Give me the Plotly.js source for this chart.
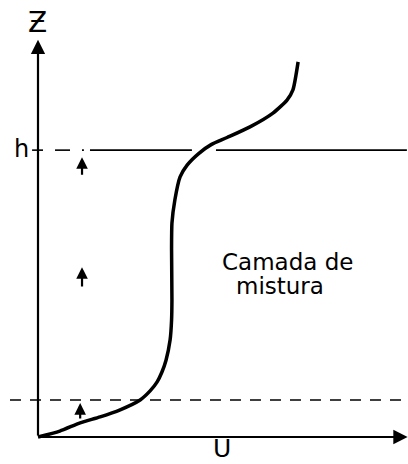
<!DOCTYPE html>
<html>
<head>
<meta charset="utf-8">
<script src="https://cdn.plot.ly/plotly-3.0.1.min.js"></script>
<style>html,body{margin:0;padding:0;background:#fff;}#chart{width:408px;height:464px;}</style>
</head>
<body>
<div id="chart"></div>
<script>
// Wind profile U(z) in arbitrary units
const profileU = [0, 0.59, 1.14, 1.68, 2.22, 2.76, 3.03, 3.22, 3.35, 3.46, 3.57, 3.61, 3.62, 3.61, 3.62, 3.70, 3.84, 4.03, 4.35, 4.68, 5.11, 5.73, 6.35, 6.73, 6.89, 7.03];
const profileZ = [0, 0.15, 0.36, 0.51, 0.69, 0.94, 1.17, 1.40, 1.65, 1.95, 2.46, 2.97, 3.48, 4.75, 5.43, 6.02, 6.60, 6.90, 7.20, 7.42, 7.60, 7.87, 8.22, 8.55, 8.81, 9.52];
const hLevel = 7.28;        // top of mixed layer
const surfaceLevel = 0.94;  // top of surface layer
const fluxArrowU = [1.19, 1.19, 1.14];
const fluxArrowBottom = [6.62, 3.78, 0.43];
const fluxArrowTop = [7.10, 4.31, 0.86];
const labels = {z: "Ƶ", u: "U", h: "h", layer1: "Camada de", layer2: "mistura"};

const traces = [{
  x: profileU, y: profileZ, type: 'scatter', mode: 'lines',
  line: {color: '#000', width: 3.5, shape: 'spline', smoothing: 0.6},
  hoverinfo: 'skip', showlegend: false
}];

const blk = '#000';
const shapes = [
  // h level segments (gap around the profile)
  {type: 'line', xref: 'x', yref: 'y', x0: -0.16, x1: 0.135, y0: hLevel, y1: hLevel, line: {color: blk, width: 1.6}},
  {type: 'line', xref: 'x', yref: 'y', x0: 0.46, x1: 0.865, y0: hLevel, y1: hLevel, line: {color: blk, width: 1.6}},
  {type: 'line', xref: 'x', yref: 'y', x0: 1.19, x1: 1.24, y0: hLevel, y1: hLevel, line: {color: blk, width: 1.6}},
  {type: 'line', xref: 'x', yref: 'y', x0: 1.405, x1: 4.16, y0: hLevel, y1: hLevel, line: {color: blk, width: 1.6}},
  {type: 'line', xref: 'x', yref: 'y', x0: 4.81, x1: 9.97, y0: hLevel, y1: hLevel, line: {color: blk, width: 1.6}},
  // surface layer dashed line
  {type: 'line', xref: 'x', yref: 'y', x0: -0.757, x1: 10.0, y0: surfaceLevel, y1: surfaceLevel, line: {color: blk, width: 1.6, dash: '11px,9px'}}
];

const annotations = [
  // axes with arrows
  {x: 0, y: 10.08, ax: 0, ay: 0, xref: 'x', yref: 'y', axref: 'x', ayref: 'y', text: '', showarrow: true, arrowhead: 2, arrowsize: 1.3, arrowwidth: 2.2, arrowcolor: blk, standoff: 0},
  {x: 9.99, y: 0, ax: 0, ay: 0, xref: 'x', yref: 'y', axref: 'x', ayref: 'y', text: '', showarrow: true, arrowhead: 2, arrowsize: 1.3, arrowwidth: 2.2, arrowcolor: blk, standoff: 0},
  // labels
  {x: -0.01, y: 10.53, xref: 'x', yref: 'y', text: labels.z, showarrow: false, font: {family: 'DejaVu Sans', size: 28, color: blk}},
  {x: 4.97, y: -0.29, xref: 'x', yref: 'y', text: labels.u, showarrow: false, font: {family: 'DejaVu Sans', size: 25, color: blk}},
  {x: -0.45, y: hLevel + 0.03, xref: 'x', yref: 'y', text: labels.h, showarrow: false, font: {family: 'DejaVu Sans', size: 24, color: blk}},
  {x: 6.74, y: 4.43, xref: 'x', yref: 'y', text: labels.layer1, showarrow: false, font: {family: 'DejaVu Sans', size: 23, color: blk}},
  {x: 6.54, y: 3.82, xref: 'x', yref: 'y', text: labels.layer2, showarrow: false, font: {family: 'DejaVu Sans', size: 23, color: blk}}
];
for (let i = 0; i < fluxArrowU.length; i++) {
  annotations.push({x: fluxArrowU[i], y: fluxArrowTop[i], ax: fluxArrowU[i], ay: fluxArrowBottom[i], xref: 'x', yref: 'y', axref: 'x', ayref: 'y', text: '', showarrow: true, arrowhead: 2, arrowsize: 1.05, arrowwidth: 2.2, arrowcolor: blk, standoff: 0});
}

const layout = {
  width: 408, height: 464,
  margin: {l: 0, r: 0, t: 0, b: 0, pad: 0},
  paper_bgcolor: '#fff', plot_bgcolor: '#fff',
  xaxis: {range: [-1.027, 10.0], visible: false, fixedrange: true},
  yaxis: {range: [-0.685, 11.09], visible: false, fixedrange: true},
  shapes: shapes, annotations: annotations, showlegend: false
};
Plotly.newPlot('chart', traces, layout, {staticPlot: true, displayModeBar: false});
</script>
</body>
</html>
